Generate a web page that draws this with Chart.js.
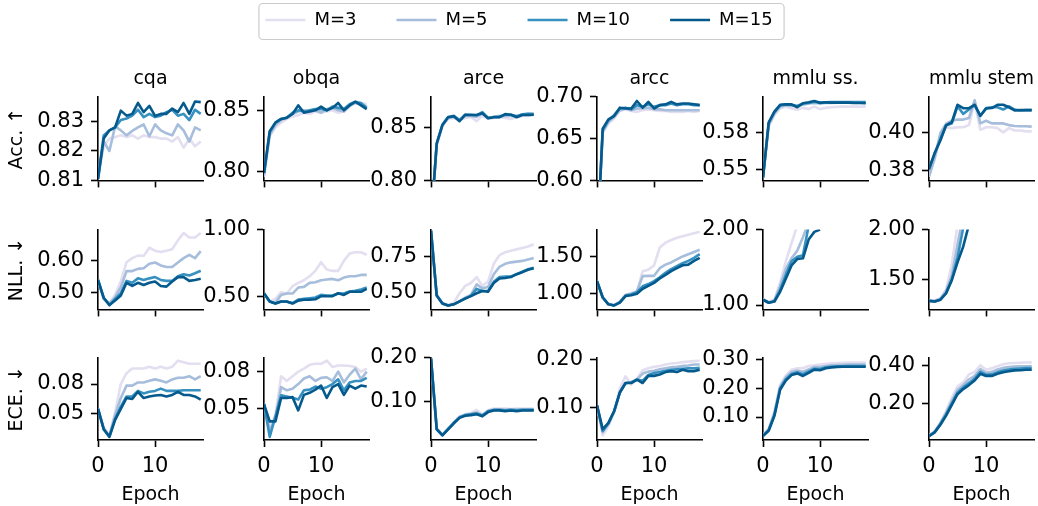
<!DOCTYPE html>
<html>
<head>
<meta charset="utf-8">
<script src="https://cdn.jsdelivr.net/npm/chart.js@4.4.1/dist/chart.umd.min.js"></script>
<style>
  body { margin: 0; background: #fff; }
  #fig { position: relative; width: 1038px; height: 506px; overflow: hidden; background: #fff; }
  #fig canvas { position: absolute; }
</style>
</head>
<body>
<div id="fig"></div>
<script>
// x values and labels
var epochs = [0, 1, 2, 3, 4, 5, 6, 7, 8, 9, 10, 11, 12, 13, 14, 15, 16, 17, 18];
var seriesLabels = ["M=3", "M=5", "M=10", "M=15"];
var taskNames = ["cqa", "obqa", "arce", "arcc", "mmlu ss.", "mmlu stem"];
var metricNames = ["Acc. \u2191", "NLL. \u2193", "ECE. \u2193"];
var xTicks = [0, 10];

// each task array holds the series in order M=3, M=5, M=10, M=15

// accuracy
var cqaAcc = [
  [0.8105, 0.8216, 0.8242, 0.8247, 0.8253, 0.8247, 0.8253, 0.8242, 0.8253, 0.8247, 0.8247, 0.8242, 0.8242, 0.8232, 0.8247, 0.8211, 0.8242, 0.8216, 0.8232],
  [0.8105, 0.8232, 0.8200, 0.8284, 0.8270, 0.8253, 0.8268, 0.8280, 0.8290, 0.8250, 0.8290, 0.8270, 0.8260, 0.8253, 0.8290, 0.8270, 0.8232, 0.8280, 0.8270],
  [0.8105, 0.8253, 0.8270, 0.8280, 0.8305, 0.8310, 0.8320, 0.8340, 0.8315, 0.8326, 0.8315, 0.8320, 0.8332, 0.8340, 0.8320, 0.8326, 0.8305, 0.8340, 0.8326],
  [0.8105, 0.8242, 0.8270, 0.8280, 0.8337, 0.8320, 0.8326, 0.8363, 0.8332, 0.8353, 0.8319, 0.8326, 0.8326, 0.8344, 0.8332, 0.8363, 0.8326, 0.8368, 0.8366]
];
var obqaAcc = [
  [0.796, 0.829, 0.836, 0.840, 0.843, 0.845, 0.846, 0.848, 0.847, 0.849, 0.848, 0.849, 0.850, 0.848, 0.849, 0.853, 0.856, 0.856, 0.855],
  [0.797, 0.830, 0.838, 0.842, 0.844, 0.847, 0.849, 0.850, 0.849, 0.850, 0.848, 0.851, 0.852, 0.850, 0.849, 0.854, 0.856, 0.855, 0.853],
  [0.799, 0.832, 0.840, 0.843, 0.844, 0.848, 0.850, 0.849, 0.850, 0.851, 0.851, 0.850, 0.853, 0.852, 0.851, 0.855, 0.857, 0.856, 0.852],
  [0.799, 0.833, 0.840, 0.843, 0.844, 0.847, 0.854, 0.848, 0.849, 0.850, 0.853, 0.850, 0.852, 0.856, 0.850, 0.854, 0.857, 0.854, 0.851]
];
var arceAcc = [
  [0.76, 0.833, 0.851, 0.858, 0.859, 0.857, 0.859, 0.860, 0.856, 0.861, 0.858, 0.859, 0.860, 0.859, 0.858, 0.860, 0.861, 0.861, 0.862],
  [0.76, 0.834, 0.852, 0.859, 0.860, 0.857, 0.861, 0.861, 0.860, 0.863, 0.859, 0.860, 0.861, 0.861, 0.861, 0.861, 0.862, 0.863, 0.863],
  [0.76, 0.835, 0.8525, 0.860, 0.861, 0.857, 0.862, 0.862, 0.8615, 0.8645, 0.859, 0.860, 0.860, 0.862, 0.862, 0.8605, 0.8625, 0.863, 0.8628],
  [0.76, 0.8347, 0.8524, 0.8597, 0.8606, 0.8559, 0.8621, 0.8618, 0.8618, 0.8635, 0.8588, 0.8597, 0.8597, 0.8626, 0.8621, 0.8597, 0.8618, 0.8618, 0.8621]
];
var arccAcc = [
  [0.52, 0.657, 0.668, 0.674, 0.683, 0.685, 0.683, 0.682, 0.684, 0.685, 0.684, 0.683, 0.683, 0.682, 0.682, 0.682, 0.683, 0.682, 0.683],
  [0.52, 0.658, 0.670, 0.676, 0.684, 0.686, 0.684, 0.686, 0.686, 0.687, 0.685, 0.685, 0.684, 0.684, 0.684, 0.684, 0.684, 0.684, 0.684],
  [0.52, 0.660, 0.672, 0.678, 0.686, 0.687, 0.685, 0.690, 0.688, 0.691, 0.688, 0.690, 0.690, 0.692, 0.690, 0.691, 0.691, 0.690, 0.690],
  [0.52, 0.662, 0.673, 0.677, 0.687, 0.686, 0.686, 0.695, 0.687, 0.694, 0.686, 0.690, 0.691, 0.694, 0.691, 0.692, 0.692, 0.691, 0.690]
];
var mmluSsAcc = [
  [0.5433, 0.585, 0.594, 0.5995, 0.601, 0.5995, 0.5985, 0.600, 0.599, 0.601, 0.599, 0.600, 0.6005, 0.6008, 0.601, 0.601, 0.601, 0.601, 0.601],
  [0.5433, 0.586, 0.5955, 0.601, 0.6022, 0.6015, 0.6015, 0.6025, 0.6035, 0.604, 0.6035, 0.604, 0.604, 0.6043, 0.6043, 0.6045, 0.6045, 0.6045, 0.6045],
  [0.5433, 0.5875, 0.5965, 0.602, 0.6028, 0.6025, 0.6015, 0.6035, 0.604, 0.605, 0.6045, 0.6045, 0.6048, 0.6048, 0.6048, 0.6048, 0.6048, 0.6048, 0.6048],
  [0.5433, 0.5883, 0.597, 0.6025, 0.603, 0.6028, 0.6005, 0.6038, 0.6045, 0.6055, 0.604, 0.6045, 0.6043, 0.6043, 0.6043, 0.6043, 0.604, 0.604, 0.6038]
];
var mmluStemAcc = [
  [0.377, 0.386, 0.398, 0.403, 0.4025, 0.403, 0.403, 0.4041, 0.416, 0.4016, 0.403, 0.403, 0.4025, 0.4003, 0.4025, 0.4013, 0.4013, 0.4008, 0.4008],
  [0.377, 0.387, 0.400, 0.4049, 0.4064, 0.407, 0.407, 0.4078, 0.4172, 0.405, 0.4064, 0.405, 0.405, 0.405, 0.4041, 0.4036, 0.4035, 0.4035, 0.4033],
  [0.381, 0.389, 0.397, 0.404, 0.405, 0.414, 0.410, 0.4123, 0.4148, 0.409, 0.4131, 0.4135, 0.4135, 0.4123, 0.414, 0.4123, 0.4118, 0.412, 0.412],
  [0.381, 0.3895, 0.396, 0.404, 0.4057, 0.4148, 0.413, 0.413, 0.4148, 0.409, 0.4128, 0.4131, 0.4148, 0.4148, 0.4135, 0.4118, 0.412, 0.412, 0.412]
];

// negative log-likelihood
var cqaNll = [
  [0.54, 0.48, 0.466, 0.493, 0.536, 0.596, 0.609, 0.617, 0.616, 0.642, 0.632, 0.628, 0.632, 0.637, 0.665, 0.688, 0.674, 0.674, 0.688],
  [0.54, 0.48, 0.466, 0.485, 0.517, 0.568, 0.568, 0.575, 0.577, 0.591, 0.595, 0.586, 0.581, 0.581, 0.595, 0.609, 0.619, 0.609, 0.631],
  [0.54, 0.483, 0.46, 0.48, 0.4985, 0.537, 0.531, 0.545, 0.54, 0.545, 0.549, 0.54, 0.537, 0.537, 0.552, 0.558, 0.554, 0.561, 0.569],
  [0.54, 0.484, 0.461, 0.475, 0.491, 0.531, 0.521, 0.531, 0.524, 0.531, 0.535, 0.521, 0.519, 0.535, 0.549, 0.549, 0.537, 0.54, 0.544]
];
var obqaNll = [
  [0.52, 0.46, 0.48, 0.53, 0.52, 0.575, 0.60, 0.62, 0.65, 0.69, 0.755, 0.70, 0.69, 0.69, 0.765, 0.82, 0.83, 0.83, 0.81],
  [0.52, 0.46, 0.45, 0.51, 0.52, 0.52, 0.565, 0.57, 0.60, 0.605, 0.62, 0.625, 0.63, 0.62, 0.64, 0.65, 0.65, 0.66, 0.66],
  [0.52, 0.46, 0.445, 0.46, 0.458, 0.448, 0.475, 0.48, 0.485, 0.49, 0.51, 0.505, 0.505, 0.52, 0.52, 0.535, 0.54, 0.55, 0.565],
  [0.522, 0.46, 0.445, 0.46, 0.46, 0.445, 0.467, 0.473, 0.473, 0.477, 0.50, 0.50, 0.50, 0.522, 0.51, 0.533, 0.533, 0.533, 0.555]
];
var arceNll = [
  [0.93, 0.49, 0.43, 0.415, 0.43, 0.496, 0.547, 0.567, 0.608, 0.547, 0.577, 0.70, 0.76, 0.78, 0.79, 0.80, 0.81, 0.82, 0.835],
  [0.93, 0.48, 0.425, 0.411, 0.42, 0.44, 0.465, 0.485, 0.557, 0.53, 0.54, 0.628, 0.679, 0.70, 0.71, 0.715, 0.72, 0.73, 0.74],
  [0.93, 0.48, 0.425, 0.411, 0.419, 0.44, 0.46, 0.478, 0.526, 0.512, 0.512, 0.575, 0.608, 0.612, 0.612, 0.628, 0.645, 0.662, 0.672],
  [0.93, 0.48, 0.425, 0.411, 0.419, 0.439, 0.459, 0.476, 0.496, 0.512, 0.506, 0.567, 0.598, 0.602, 0.608, 0.628, 0.642, 0.659, 0.669]
];
var arccNll = [
  [1.17, 0.96, 0.865, 0.85, 0.895, 0.99, 1.01, 1.03, 1.303, 1.323, 1.38, 1.62, 1.685, 1.72, 1.75, 1.77, 1.79, 1.81, 1.83],
  [1.17, 0.95, 0.86, 0.845, 0.89, 0.98, 1.0, 1.03, 1.236, 1.24, 1.24, 1.343, 1.39, 1.42, 1.46, 1.50, 1.53, 1.56, 1.59],
  [1.17, 0.95, 0.858, 0.843, 0.885, 0.975, 0.99, 1.02, 1.10, 1.13, 1.17, 1.22, 1.28, 1.33, 1.37, 1.41, 1.44, 1.48, 1.53],
  [1.17, 0.95, 0.858, 0.843, 0.882, 0.969, 0.98, 1.00, 1.067, 1.106, 1.146, 1.205, 1.252, 1.303, 1.343, 1.382, 1.39, 1.44, 1.48]
];
var mmluSsNll = [
  [1.08, 1.04, 1.07, 1.30, 1.58, 1.82, 2.05, null, null, null, null, null, null, null, null, null, null, null, null],
  [1.075, 1.035, 1.06, 1.25, 1.48, 1.62, 1.72, 1.90, 2.10, null, null, null, null, null, null, null, null, null, null],
  [1.07, 1.03, 1.05, 1.20, 1.40, 1.58, 1.64, 1.66, 2.05, null, null, null, null, null, null, null, null, null, null],
  [1.07, 1.03, 1.047, 1.175, 1.35, 1.525, 1.61, 1.62, 1.868, 1.97, 2.0, null, null, null, null, null, null, null, null]
];
var mmluStemNll = [
  [1.29, 1.285, 1.31, 1.40, 1.65, 2.05, null, null, null, null, null, null, null, null, null, null, null, null, null],
  [1.285, 1.28, 1.30, 1.38, 1.54, 1.85, 2.15, null, null, null, null, null, null, null, null, null, null, null, null],
  [1.281, 1.275, 1.293, 1.36, 1.50, 1.72, 2.02, null, null, null, null, null, null, null, null, null, null, null, null],
  [1.281, 1.275, 1.293, 1.358, 1.49, 1.67, 1.83, 2.05, null, null, null, null, null, null, null, null, null, null, null]
];

// expected calibration error
var cqaEce = [
  [0.055, 0.036, 0.028, 0.0516, 0.080, 0.091, 0.0958, 0.0958, 0.0958, 0.0974, 0.0958, 0.0974, 0.0958, 0.0974, 0.1037, 0.1021, 0.1005, 0.1005, 0.1005],
  [0.055, 0.035, 0.027, 0.0484, 0.0658, 0.0784, 0.0784, 0.0816, 0.0816, 0.0832, 0.0847, 0.0832, 0.0816, 0.0847, 0.0863, 0.0863, 0.0879, 0.0847, 0.0879],
  [0.055, 0.034, 0.027, 0.045, 0.057, 0.0674, 0.0674, 0.073, 0.0705, 0.0721, 0.073, 0.0753, 0.073, 0.073, 0.073, 0.0737, 0.0737, 0.0737, 0.0737],
  [0.0547, 0.0342, 0.0263, 0.0437, 0.0547, 0.0658, 0.0648, 0.0721, 0.0658, 0.0674, 0.0683, 0.0689, 0.0674, 0.0689, 0.0721, 0.0689, 0.0689, 0.0674, 0.0642]
];
var obqaEce = [
  [0.054, 0.035, 0.045, 0.0763, 0.0725, 0.0763, 0.080, 0.0825, 0.0855, 0.0863, 0.0863, 0.0888, 0.0838, 0.085, 0.085, 0.0845, 0.0838, 0.080, 0.0825],
  [0.054, 0.0325, 0.0425, 0.0675, 0.065, 0.0663, 0.070, 0.0745, 0.0763, 0.0725, 0.075, 0.0755, 0.0725, 0.080, 0.0713, 0.0775, 0.0825, 0.0738, 0.080],
  [0.054, 0.0275, 0.044, 0.061, 0.060, 0.059, 0.0575, 0.065, 0.0655, 0.068, 0.0663, 0.0675, 0.070, 0.0738, 0.065, 0.0713, 0.0725, 0.0725, 0.075],
  [0.0538, 0.040, 0.040, 0.0588, 0.0588, 0.0595, 0.0488, 0.0613, 0.063, 0.0655, 0.0688, 0.0588, 0.0675, 0.070, 0.0613, 0.0688, 0.0663, 0.0688, 0.068]
];
var arceEce = [
  [0.198, 0.038, 0.024, 0.038, 0.052, 0.065, 0.070, 0.073, 0.080, 0.069, 0.079, 0.083, 0.083, 0.083, 0.082, 0.083, 0.083, 0.083, 0.083],
  [0.198, 0.037, 0.023, 0.037, 0.051, 0.064, 0.069, 0.071, 0.074, 0.068, 0.078, 0.081, 0.081, 0.080, 0.081, 0.081, 0.081, 0.081, 0.081],
  [0.198, 0.036, 0.022, 0.036, 0.050, 0.063, 0.068, 0.070, 0.072, 0.067, 0.077, 0.080, 0.080, 0.079, 0.080, 0.079, 0.080, 0.080, 0.080],
  [0.198, 0.0354, 0.0215, 0.0354, 0.0493, 0.0618, 0.0667, 0.068, 0.070, 0.0653, 0.075, 0.0785, 0.079, 0.077, 0.0785, 0.077, 0.0785, 0.0785, 0.079]
];
var arccEce = [
  [0.104, 0.041, 0.060, 0.090, 0.140, 0.165, 0.148, 0.160, 0.178, 0.182, 0.185, 0.187, 0.190, 0.192, 0.193, 0.195, 0.196, 0.197, 0.198],
  [0.104, 0.0475, 0.065, 0.090, 0.131, 0.150, 0.153, 0.158, 0.171, 0.175, 0.177, 0.180, 0.182, 0.184, 0.185, 0.187, 0.188, 0.190, 0.190],
  [0.104, 0.050, 0.066, 0.091, 0.131, 0.151, 0.152, 0.158, 0.156, 0.168, 0.172, 0.174, 0.177, 0.179, 0.180, 0.181, 0.182, 0.182, 0.183],
  [0.104, 0.054, 0.067, 0.092, 0.131, 0.151, 0.151, 0.158, 0.151, 0.166, 0.166, 0.169, 0.174, 0.176, 0.174, 0.179, 0.176, 0.176, 0.179]
];
var mmluSsEce = [
  [0.036, 0.060, 0.120, 0.212, 0.245, 0.265, 0.270, 0.270, 0.278, 0.280, 0.283, 0.285, 0.287, 0.288, 0.289, 0.290, 0.290, 0.290, 0.290],
  [0.035, 0.057, 0.113, 0.205, 0.238, 0.257, 0.262, 0.258, 0.266, 0.274, 0.274, 0.278, 0.280, 0.281, 0.282, 0.283, 0.283, 0.283, 0.283],
  [0.035, 0.055, 0.108, 0.200, 0.232, 0.250, 0.256, 0.249, 0.259, 0.268, 0.267, 0.273, 0.275, 0.277, 0.277, 0.278, 0.278, 0.278, 0.278],
  [0.034, 0.052, 0.104, 0.195, 0.227, 0.246, 0.252, 0.243, 0.254, 0.265, 0.263, 0.270, 0.273, 0.274, 0.275, 0.275, 0.275, 0.275, 0.275]
];
var mmluStemEce = [
  [0.030, 0.055, 0.100, 0.160, 0.230, 0.290, 0.310, 0.352, 0.365, 0.400, 0.376, 0.384, 0.395, 0.405, 0.410, 0.412, 0.413, 0.414, 0.415],
  [0.030, 0.052, 0.096, 0.150, 0.212, 0.270, 0.297, 0.325, 0.345, 0.380, 0.360, 0.365, 0.378, 0.386, 0.390, 0.393, 0.394, 0.395, 0.395],
  [0.029, 0.050, 0.092, 0.142, 0.200, 0.256, 0.284, 0.306, 0.330, 0.365, 0.350, 0.352, 0.364, 0.372, 0.377, 0.381, 0.383, 0.385, 0.385],
  [0.0288, 0.048, 0.088, 0.136, 0.192, 0.248, 0.275, 0.296, 0.320, 0.355, 0.344, 0.344, 0.355, 0.363, 0.368, 0.373, 0.374, 0.376, 0.376]
];

// y tick labels per panel (row by row)
var accTicks = [[0.81, 0.82, 0.83], [0.80, 0.85], [0.80, 0.85], [0.60, 0.65, 0.70], [0.55, 0.58], [0.38, 0.40]];
var nllTicks = [[0.50, 0.60], [0.50, 1.00], [0.50, 0.75], [1.00, 1.50], [1.00, 2.00], [1.50, 2.00]];
var eceTicks = [[0.05, 0.08], [0.05, 0.08], [0.10, 0.20], [0.10, 0.20], [0.10, 0.20, 0.30], [0.20, 0.40]];

// y axis limits per panel [min, max]
var accLimits = [[0.81, 0.8384], [0.793, 0.861], [0.80, 0.879], [0.60, 0.70], [0.541, 0.609], [0.375, 0.419]];
var nllLimits = [[0.447, 0.699], [0.401, 1.00], [0.384, 0.937], [0.79, 1.86], [0.942, 2.00], [1.195, 2.00]];
var eceLimits = [[0.0232, 0.1068], [0.025, 0.0913], [0.011, 0.20], [0.031, 0.2045], [0.02, 0.307], [0.008, 0.44]];

var rows = [
  [cqaAcc, obqaAcc, arceAcc, arccAcc, mmluSsAcc, mmluStemAcc],
  [cqaNll, obqaNll, arceNll, arccNll, mmluSsNll, mmluStemNll],
  [cqaEce, obqaEce, arceEce, arccEce, mmluSsEce, mmluStemEce]
];
var rowTicks = [accTicks, nllTicks, eceTicks];
var rowLimits = [accLimits, nllLimits, eceLimits];

// styling / layout
var colors = ["#e3def0", "#a6bddb", "#3690c0", "#045a8d"];
var colLeft = [98, 264, 431, 597, 763, 929];
var plotW = 105;
var rowTop = [97, 224, 352];
var rowBottom = [187, 315, 440];
var xMax = 18.4;

Chart.defaults.font.family = "'DejaVu Sans', sans-serif";
Chart.defaults.color = "#000";

var fig = document.getElementById("fig");

function makeCanvas(left, top, w, h) {
  var cv = document.createElement("canvas");
  cv.width = w;
  cv.height = h;
  cv.style.left = left + "px";
  cv.style.top = top + "px";
  fig.appendChild(cv);
  return cv;
}

function makePanel(r, c) {
  var yw = c === 0 ? colLeft[0] : 95;
  var titleH = r === 0 ? 28.8 : 0;
  var padTop = r === 0 ? 0 : 14;
  var xh = r === 2 ? 66 : 8;
  var padBottom = r === 2 ? 0 : 6;
  var top = rowTop[r] - titleH - padTop;
  var h = rowBottom[r] - top + xh + padBottom;
  var w = yw + plotW + 4;
  var cv = makeCanvas(colLeft[c] - yw, top, w, h);

  var series = rows[r][c];
  var ticks = rowTicks[r][c];
  var lim = rowLimits[r][c];

  var datasets = series.map(function (vals, i) {
    return {
      label: seriesLabels[i],
      data: vals.map(function (v, k) { return {x: epochs[k], y: v}; }),
      borderColor: colors[i],
      backgroundColor: colors[i],
      borderWidth: 2.6,
      pointRadius: 0,
      borderJoinStyle: "round",
      tension: 0,
      order: 3 - i
    };
  });

  new Chart(cv.getContext("2d"), {
    type: "line",
    data: {datasets: datasets},
    options: {
      responsive: false,
      animation: false,
      layout: {padding: {top: padTop, bottom: padBottom, left: 0, right: 4}},
      plugins: {
        legend: {display: false},
        tooltip: {enabled: false},
        title: {
          display: r === 0,
          text: taskNames[c],
          fullSize: false,
          font: {size: 19, weight: "normal"},
          padding: {top: 0, bottom: 6}
        }
      },
      scales: {
        x: {
          type: "linear",
          min: 0,
          max: xMax,
          afterBuildTicks: function (s) { s.ticks = xTicks.map(function (v) { return {value: v}; }); },
          afterFit: function (s) { s.height = xh; },
          grid: {drawOnChartArea: false, tickLength: 7, tickWidth: 1.6, tickColor: "#000"},
          border: {display: true, color: "#000", width: 1.6},
          ticks: {
            display: r === 2,
            font: {size: 21},
            padding: 7,
            autoSkip: false,
            maxRotation: 0,
            callback: function (v) { return String(v); }
          },
          title: {
            display: r === 2,
            text: "Epoch",
            font: {size: 19},
            padding: {top: 2, bottom: 0}
          }
        },
        y: {
          type: "linear",
          min: lim[0],
          max: lim[1],
          afterBuildTicks: function (s) { s.ticks = ticks.map(function (v) { return {value: v}; }); },
          afterFit: function (s) { s.width = yw; },
          grid: {drawOnChartArea: false, tickLength: 7, tickWidth: 1.6, tickColor: "#000"},
          border: {display: true, color: "#000", width: 1.6},
          ticks: {
            font: {size: 21},
            padding: 7,
            autoSkip: false,
            callback: function (v) { return v.toFixed(2); }
          },
          title: {
            display: c === 0,
            text: metricNames[r],
            font: {size: 19},
            padding: {top: 6, bottom: 0}
          }
        }
      }
    }
  });
}

for (var r = 0; r < 3; r++) {
  for (var c = 0; c < 6; c++) {
    makePanel(r, c);
  }
}

// shared legend drawn by its own chart, framed like the reference
var legendFrame = {
  id: "legendFrame",
  afterDraw: function (chart) {
    var boxes = chart.legend.legendHitBoxes;
    if (!boxes || !boxes.length) return;
    var first = boxes[0], last = boxes[boxes.length - 1];
    var cy = first.top + first.height / 2;
    var x0 = first.left - 7, x1 = last.left + last.width + 11;
    var ctx = chart.ctx;
    ctx.save();
    ctx.beginPath();
    ctx.roundRect(x0 + 0.5, cy - 17 + 0.5, x1 - x0, 36, 4);
    ctx.strokeStyle = "#cccccc";
    ctx.lineWidth = 1.2;
    ctx.stroke();
    ctx.restore();
  }
};

var legendCanvas = makeCanvas(0, -29, 1038, 260);
new Chart(legendCanvas.getContext("2d"), {
  type: "line",
  data: {
    datasets: seriesLabels.map(function (lab, i) {
      return {label: lab, data: [], borderColor: colors[i], backgroundColor: colors[i], borderWidth: 2.6};
    })
  },
  options: {
    responsive: false,
    animation: false,
    layout: {padding: 0},
    scales: {x: {display: false}, y: {display: false}},
    plugins: {
      tooltip: {enabled: false},
      legend: {
        display: true,
        position: "top",
        labels: {
          font: {size: 18},
          color: "#000",
          usePointStyle: true,
          pointStyle: "line",
          pointStyleWidth: 40,
          padding: 40
        }
      }
    }
  },
  plugins: [legendFrame]
});
</script>
</body>
</html>
